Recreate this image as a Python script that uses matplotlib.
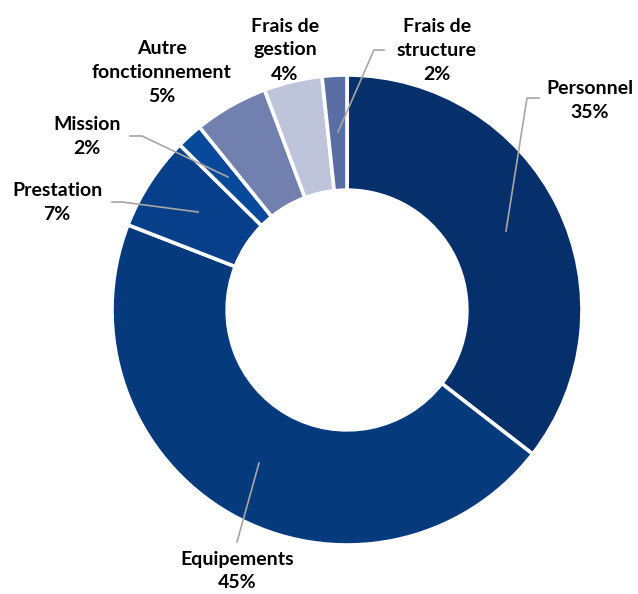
import numpy as np
import matplotlib
matplotlib.use("Agg")
import matplotlib.pyplot as plt

# data, clockwise from 12 o'clock (shares)
labels = ["Personnel", "Equipements", "Prestation", "Mission",
          "Autre\nfonctionnement", "Frais de\ngestion", "Frais de\nstructure"]
values = [35.5, 45.4, 6.5, 1.8, 5.1, 4.0, 1.7]
pct_labels = ["35%", "45%", "7%", "2%", "5%", "4%", "2%"]
colors = ["#06306B", "#053A7D", "#073F8A", "#074A9C",
          "#7180AE", "#BEC4DA", "#5A6EA6"]

# label centres and leader lines, in pixels of the 638x594 picture
label_pos = [(590, 100), (237, 571), (57, 202), (87, 137),
             (162, 72), (285, 50), (437, 50)]
leaders = [[(539, 98), (527, 98), (506, 231)],
           [(259, 463), (237, 542)],
           [(112, 202), (122, 202), (198, 212)],
           [(130, 136), (142, 136), (228, 177)],
           None,
           None,
           [(384, 50), (374, 50), (338, 132)]]

W, H = 638, 594
cx, cy, R = 347, 310, 235

plt.rcParams['font.family'] = ['Lato', 'DejaVu Sans']

fig = plt.figure(figsize=(W / 100, H / 100), dpi=100)
ax = fig.add_axes([0, 0, 1, 1])

ax.pie(values, colors=colors, startangle=90, counterclock=False, radius=1,
       wedgeprops=dict(width=0.49, edgecolor='white', linewidth=2.6))
ax.set_xlim(-cx / R, (W - cx) / R)
ax.set_ylim(-(H - cy) / R, cy / R)
ax.set_aspect('auto')
ax.axis('off')


def px(p):
    return ((p[0] - cx) / R, (cy - p[1]) / R)


for lab, pct, pos, ld in zip(labels, pct_labels, label_pos, leaders):
    x, y = px(pos)
    ax.text(x, y, f"{lab}\n{pct}", ha='center', va='center', fontsize=14,
            fontweight='bold', linespacing=1.5, color='black')
    if ld is not None:
        pts = np.array([px(p) for p in ld])
        ax.plot(pts[:, 0], pts[:, 1], color='#A6A6A6', lw=1.2)

fig.savefig("out.png", dpi=100)
